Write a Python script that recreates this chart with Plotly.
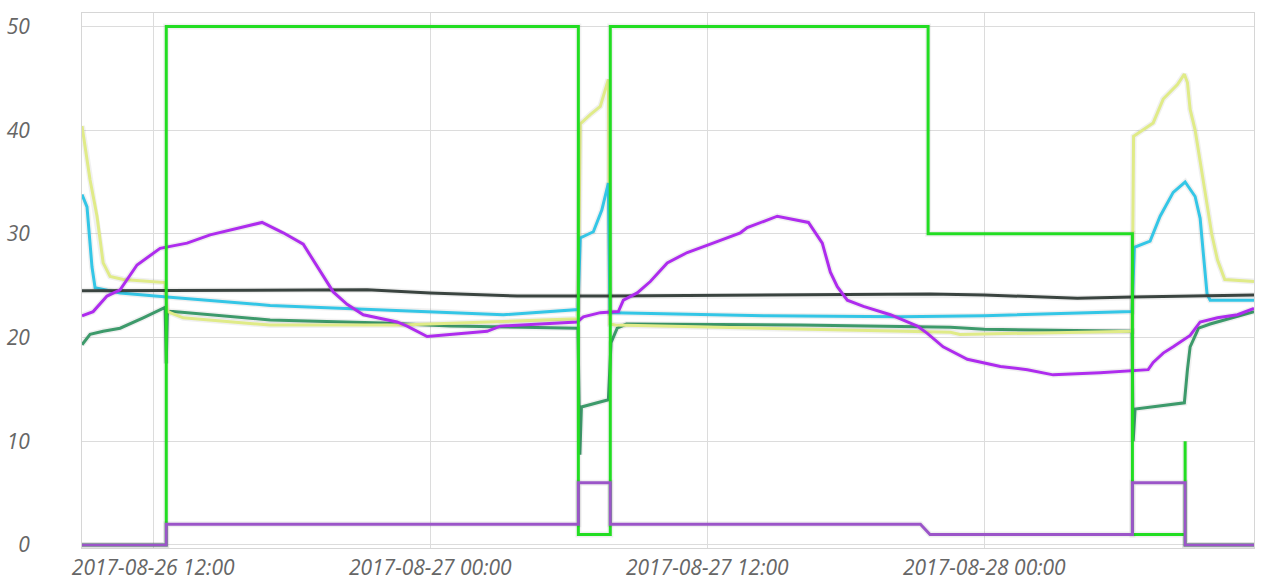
import plotly.graph_objects as go

# ---------------- data ----------------
yellow_t = ["2017-08-26 08:55", "2017-08-26 09:16", "2017-08-26 09:34", "2017-08-26 09:50", "2017-08-26 10:08",
            "2017-08-26 10:42", "2017-08-26 12:31", "2017-08-26 12:36", "2017-08-26 12:44", "2017-08-26 13:18",
            "2017-08-26 17:04", "2017-08-26 22:42", "2017-08-27 06:24", "2017-08-27 06:30", "2017-08-27 06:56",
            "2017-08-27 07:22", "2017-08-27 07:43", "2017-08-27 07:47", "2017-08-27 08:01", "2017-08-27 16:02",
            "2017-08-27 22:32", "2017-08-27 22:57", "2017-08-28 06:24", "2017-08-28 06:28", "2017-08-28 06:51",
            "2017-08-28 07:19", "2017-08-28 07:45", "2017-08-28 08:22", "2017-08-28 08:40", "2017-08-28 08:48",
            "2017-08-28 08:55", "2017-08-28 09:08", "2017-08-28 09:34", "2017-08-28 09:51", "2017-08-28 10:06",
            "2017-08-28 10:25", "2017-08-28 11:41"]
yellow_v = [40.4, 35.2, 31.7, 27.2, 25.9,
            25.6, 25.3, 22.6, 22.4, 21.9,
            21.2, 21.2, 21.8, 40.6, 41.5,
            42.3, 44.9, 21.3, 21.2, 20.8,
            20.5, 20.3, 20.6, 39.4, 40.0,
            40.7, 43.0, 44.4, 45.4, 44.6,
            42.0, 40.0, 34.0, 30.0, 27.5,
            25.6, 25.4]

cyan_t = ["2017-08-26 08:55", "2017-08-26 09:08", "2017-08-26 09:21", "2017-08-26 09:29", "2017-08-26 10:34",
          "2017-08-26 12:36", "2017-08-26 17:04", "2017-08-27 00:00", "2017-08-27 03:10", "2017-08-27 06:24",
          "2017-08-27 06:30", "2017-08-27 07:04", "2017-08-27 07:26", "2017-08-27 07:43", "2017-08-27 07:47",
          "2017-08-27 07:56", "2017-08-27 14:36", "2017-08-27 20:22", "2017-08-28 00:00", "2017-08-28 06:24",
          "2017-08-28 06:30", "2017-08-28 07:11", "2017-08-28 07:37", "2017-08-28 08:11", "2017-08-28 08:42",
          "2017-08-28 09:08", "2017-08-28 09:21", "2017-08-28 09:32", "2017-08-28 09:39", "2017-08-28 09:47",
          "2017-08-28 11:41"]
cyan_v = [33.8, 32.6, 26.8, 24.8, 24.3,
          23.9, 23.1, 22.5, 22.2, 22.7,
          29.6, 30.2, 32.3, 34.9, 22.4,
          22.4, 22.1, 22.0, 22.1, 22.5,
          28.7, 29.3, 31.7, 34.0, 35.0,
          33.6, 31.5, 27.0, 24.2, 23.6,
          23.6]

dark_t = ["2017-08-26 08:55", "2017-08-26 16:12", "2017-08-26 21:16", "2017-08-27 00:00", "2017-08-27 03:46",
          "2017-08-27 07:48", "2017-08-27 16:02", "2017-08-27 21:39", "2017-08-28 00:00", "2017-08-28 04:02",
          "2017-08-28 06:25", "2017-08-28 11:41"]
dark_v = [24.5, 24.6, 24.6, 24.3, 24.0,
          24.0, 24.1, 24.2, 24.1, 23.8,
          23.9, 24.1]

seagreen_t = ["2017-08-26 08:55", "2017-08-26 09:16", "2017-08-26 09:50", "2017-08-26 10:34", "2017-08-26 11:34",
              "2017-08-26 12:31", "2017-08-26 12:34", "2017-08-26 12:37", "2017-08-26 12:52", "2017-08-26 17:04",
              "2017-08-26 21:58", "2017-08-27 00:52", "2017-08-27 06:24", "2017-08-27 06:29", "2017-08-27 06:33",
              "2017-08-27 07:43", "2017-08-27 07:50", "2017-08-27 08:06", "2017-08-27 08:30", "2017-08-27 16:02",
              "2017-08-27 22:32", "2017-08-28 00:00", "2017-08-28 06:24", "2017-08-28 06:27", "2017-08-28 06:32",
              "2017-08-28 08:40", "2017-08-28 08:48", "2017-08-28 08:55", "2017-08-28 09:17", "2017-08-28 09:47",
              "2017-08-28 11:41"]
seagreen_v = [19.3, 20.3, 20.6, 20.9, 21.9,
              22.9, 17.5, 22.5, 22.5, 21.7,
              21.4, 21.1, 20.9, 8.7, 13.3,
              14.0, 19.5, 20.9, 21.3, 21.2,
              21.0, 20.8, 20.6, 10.0, 13.1,
              13.7, 16.9, 19.1, 20.9, 21.3,
              22.5]

violet_t = ["2017-08-26 08:55", "2017-08-26 09:24", "2017-08-26 10:00", "2017-08-26 10:34", "2017-08-26 11:18",
            "2017-08-26 12:18", "2017-08-26 13:28", "2017-08-26 14:28", "2017-08-26 16:43", "2017-08-26 17:38",
            "2017-08-26 18:30", "2017-08-26 19:06", "2017-08-26 19:48", "2017-08-26 20:24", "2017-08-26 21:06",
            "2017-08-26 22:34", "2017-08-26 23:00", "2017-08-26 23:52", "2017-08-27 02:28", "2017-08-27 03:02",
            "2017-08-27 06:22", "2017-08-27 06:38", "2017-08-27 07:22", "2017-08-27 08:09", "2017-08-27 08:22",
            "2017-08-27 08:58", "2017-08-27 09:32", "2017-08-27 10:16", "2017-08-27 11:08", "2017-08-27 12:08",
            "2017-08-27 13:26", "2017-08-27 13:44", "2017-08-27 15:02", "2017-08-27 16:23", "2017-08-27 16:59",
            "2017-08-27 17:20", "2017-08-27 17:38", "2017-08-27 18:04", "2017-08-27 18:46", "2017-08-27 19:56",
            "2017-08-27 21:06", "2017-08-27 21:32", "2017-08-27 22:13", "2017-08-27 23:16", "2017-08-28 00:42",
            "2017-08-28 01:52", "2017-08-28 02:59", "2017-08-28 05:01", "2017-08-28 07:06", "2017-08-28 07:19",
            "2017-08-28 07:45", "2017-08-28 08:11", "2017-08-28 08:55", "2017-08-28 09:21", "2017-08-28 10:06",
            "2017-08-28 10:58", "2017-08-28 11:41"]
violet_v = [22.1, 22.5, 24.0, 24.6, 27.0,
            28.6, 29.1, 29.9, 31.1, 30.1,
            29.0, 26.9, 24.4, 23.2, 22.2,
            21.5, 21.1, 20.1, 20.6, 21.1,
            21.5, 22.0, 22.4, 22.5, 23.6,
            24.3, 25.4, 27.2, 28.2, 29.0,
            30.1, 30.6, 31.7, 31.1, 29.1,
            26.3, 24.9, 23.6, 23.0, 22.2,
            21.1, 20.4, 19.1, 17.9, 17.2,
            16.9, 16.4, 16.6, 16.9, 17.6,
            18.5, 19.1, 20.2, 21.5, 21.9,
            22.2, 22.8]

green_step_t = ["2017-08-26 08:55", "2017-08-26 12:34", "2017-08-27 06:25", "2017-08-27 07:48", "2017-08-27 21:34",
                "2017-08-28 06:25", "2017-08-28 08:42", "2017-08-28 08:42", "2017-08-28 11:41"]
green_step_v = [0, 50, 1, 50, 30, 1, 10, 0, 0]

purple_step_t = ["2017-08-26 08:55", "2017-08-26 12:34", "2017-08-26 12:34", "2017-08-27 06:25", "2017-08-27 06:25",
                 "2017-08-27 07:48", "2017-08-27 07:48", "2017-08-27 21:14", "2017-08-27 21:39", "2017-08-28 06:25",
                 "2017-08-28 06:25", "2017-08-28 08:42", "2017-08-28 08:42", "2017-08-28 11:41"]
purple_step_v = [0, 0, 2, 2, 6, 6, 2, 2, 1, 1, 6, 6, 0, 0]

x_tick_vals = ["2017-08-26 12:00", "2017-08-27 00:00", "2017-08-27 12:00", "2017-08-28 00:00"]
x_tick_text = ["2017-08-26 12:00", "2017-08-27 00:00", "2017-08-27 12:00", "2017-08-28 00:00"]
y_tick_vals = [0, 10, 20, 30, 40, 50]

# ---------------- figure ----------------
fig = go.Figure()

def add_line(t, v, color, shape="linear", width=3):
    # soft shadow under line
    fig.add_trace(go.Scatter(x=t, y=v, mode="lines",
                             line=dict(color="rgba(0,0,0,0.06)", width=width + 3, shape=shape),
                             hoverinfo="skip", showlegend=False))
    fig.add_trace(go.Scatter(x=t, y=v, mode="lines", line=dict(color=color, width=width, shape=shape),
                             showlegend=False))

add_line(seagreen_t, seagreen_v, "#3d9a6b")
add_line(yellow_t, yellow_v, "#e0eb88")
add_line(cyan_t, cyan_v, "#34c6e6")
add_line(dark_t, dark_v, "#3a4440")
add_line(violet_t, violet_v, "#ae2cee")
add_line(green_step_t, green_step_v, "#22dd22", shape="hv")
add_line(purple_step_t, purple_step_v, "#9b55c8")

tick_font = dict(family="Open Sans, DejaVu Sans, sans-serif", size=21, color="#666666", style="italic")

fig.update_layout(
    width=1280, height=587,
    margin=dict(l=82, r=26, t=13, b=39),
    paper_bgcolor="white", plot_bgcolor="white",
    showlegend=False,
    xaxis=dict(
        range=["2017-08-26 08:55", "2017-08-28 11:41"],
        tickmode="array", tickvals=x_tick_vals, ticktext=x_tick_text,
        showgrid=True, gridcolor="#dcdcdc", gridwidth=1,
        showline=True, linecolor="#d6d6d6", linewidth=1, mirror=True,
        ticks="outside", ticklen=1, tickcolor="rgba(0,0,0,0)",
        tickfont=tick_font, zeroline=False, automargin=False,
    ),
    yaxis=dict(
        range=[-0.3, 51.3],
        tickmode="array", tickvals=y_tick_vals,
        showgrid=True, gridcolor="#dcdcdc", gridwidth=1,
        showline=True, linecolor="#d6d6d6", linewidth=1, mirror=True,
        ticks="outside", ticklen=47, tickcolor="rgba(0,0,0,0)",
        tickfont=tick_font, zeroline=False, automargin=False,
    ),
)

fig.write_html("out.html", config={"displayModeBar": False},
               post_script="document.body.style.margin='0px';")
